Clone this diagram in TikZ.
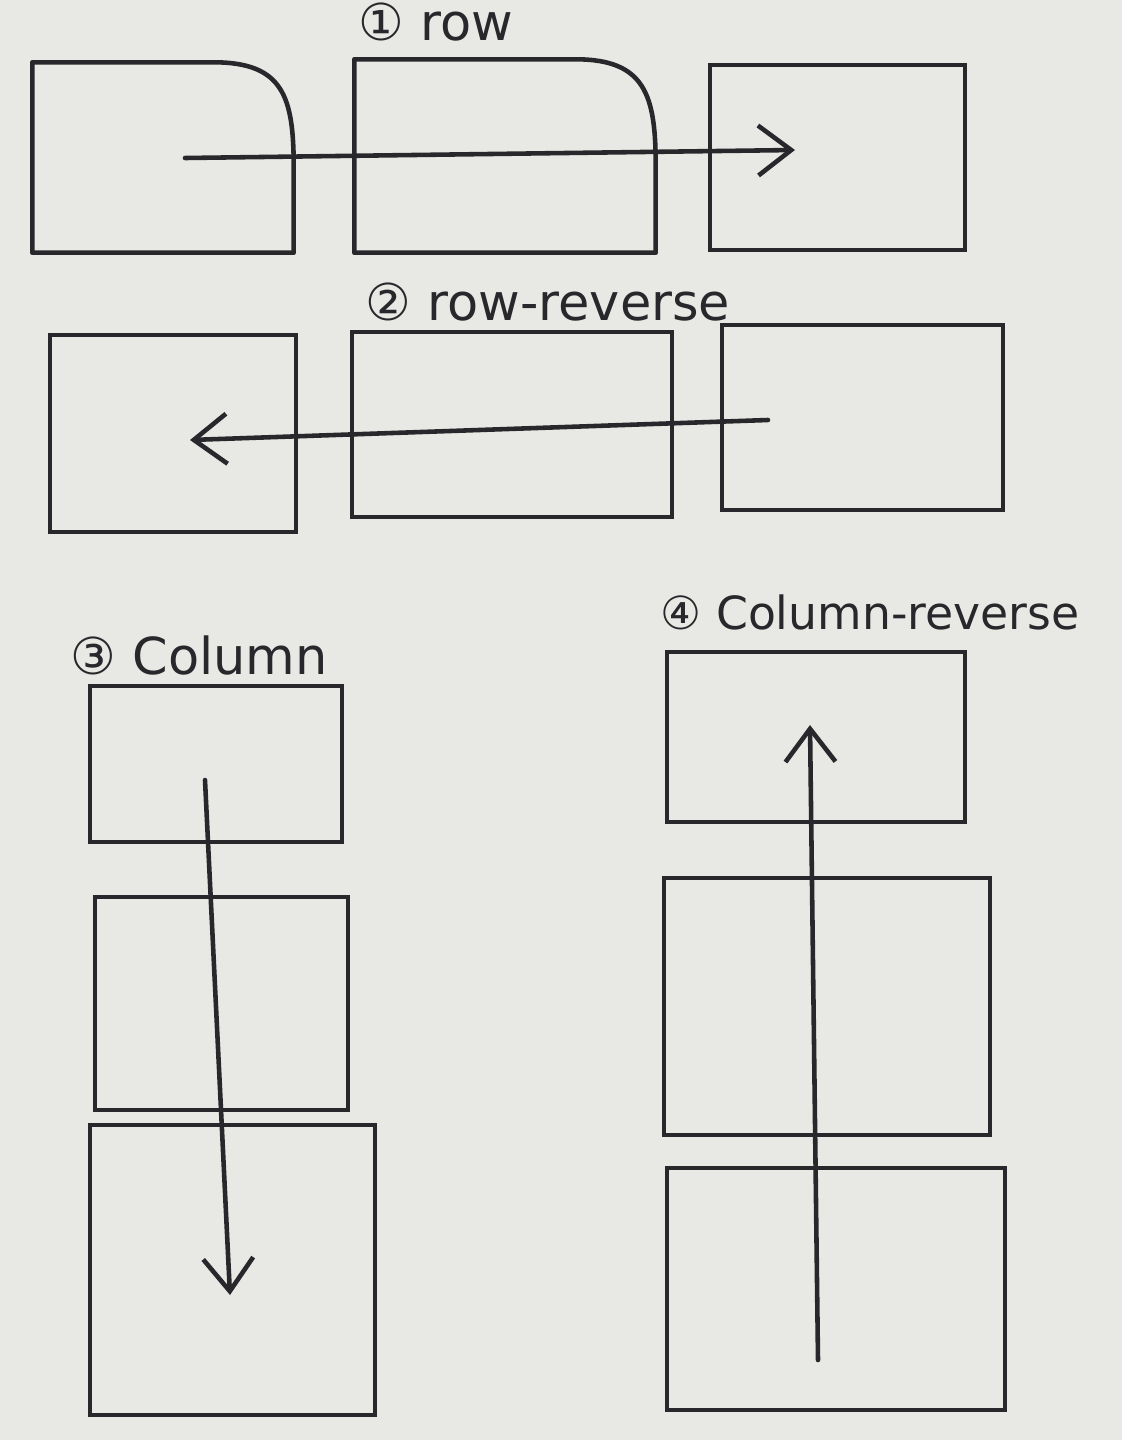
\documentclass[tikz,border=0pt]{standalone}
\usepackage{fontspec}
\setmainfont{DejaVu Sans}
\usetikzlibrary{arrows.meta}
\definecolor{paper}{RGB}{232,232,228}
\definecolor{ink}{RGB}{40,40,44}
\tikzset{
  box/.style={draw=ink,line width=1.3pt,rectangle,inner sep=0pt},
  flow/.style={draw=ink,line width=1.3pt,line cap=round,-{Straight Barb[length=3.3mm,width=5mm,line width=1.3pt]}},
  tag/.style={anchor=west,text=ink,font=\fontsize{14.5}{17}\selectfont,inner sep=0pt}
}

\begin{document}
\begin{tikzpicture}
  \fill[paper] (0,0) rectangle (11.22,-14.40);
  \useasboundingbox (0,0) rectangle (11.22,-14.40);
  % 1 row
  \node[tag] (t1) at (3.58,-0.22) {① row};
  \node[minimum width=2.60cm,minimum height=1.89cm,inner sep=0pt] (r1a) at (1.63,-1.575) {};
  \node[minimum width=3.00cm,minimum height=1.92cm,inner sep=0pt] (r1b) at (5.05,-1.56) {};
  \node[box,minimum width=2.55cm,minimum height=1.85cm] (r1c) at (8.375,-1.575) {};
  \draw[draw=ink,line width=1.3pt,line join=round] (r1a.south east) -- (r1a.south west) -- (r1a.north west)
    -- ([xshift=-8mm]r1a.north east) .. controls ([xshift=-1mm]r1a.north east) and ([yshift=6mm]r1a.east) .. ([yshift=-1mm]r1a.east) -- cycle;
  \draw[draw=ink,line width=1.3pt,line join=round] (r1b.south east) -- (r1b.south west) -- (r1b.north west)
    -- ([xshift=-8mm]r1b.north east) .. controls ([xshift=-1mm]r1b.north east) and ([yshift=6mm]r1b.east) .. ([yshift=-1mm]r1b.east) -- cycle;
  \coordinate (s1) at (1.85,-1.58);
  \coordinate (e1) at (7.95,-1.50);
  \draw[flow] (s1) -- (e1);
  % 2 row-reverse
  \node[tag] (t2) at (3.65,-3.02) {② row-reverse};
  \node[box,minimum width=2.46cm,minimum height=1.97cm] (r2a) at (1.73,-4.335) {};
  \node[box,minimum width=3.20cm,minimum height=1.85cm] (r2b) at (5.12,-4.245) {};
  \node[box,minimum width=2.81cm,minimum height=1.85cm] (r2c) at (8.625,-4.175) {};
  \coordinate (s2) at (7.68,-4.20);
  \coordinate (e2) at (1.90,-4.40);
  \draw[flow] (s2) -- (e2);
  % 3 column
  \node[tag] (t3) at (0.70,-6.55) {③ Column};
  \node[box,minimum width=2.52cm,minimum height=1.56cm] (c3a) at (2.16,-7.64) {};
  \node[box,minimum width=2.53cm,minimum height=2.13cm] (c3b) at (2.215,-10.035) {};
  \node[box,minimum width=2.85cm,minimum height=2.90cm] (c3c) at (2.325,-12.70) {};
  \coordinate (s3) at (2.05,-7.80);
  \coordinate (e3) at (2.30,-12.95);
  \draw[flow] (s3) -- (e3);
  % 4 column-reverse
  \node[tag,font=\fontsize{13}{16}\selectfont] (t4) at (6.60,-6.12) {④ Column-reverse};
  \node[box,minimum width=2.98cm,minimum height=1.70cm] (c4a) at (8.16,-7.37) {};
  \node[box,minimum width=3.26cm,minimum height=2.57cm] (c4b) at (8.27,-10.065) {};
  \node[box,minimum width=3.38cm,minimum height=2.42cm] (c4c) at (8.36,-12.89) {};
  \coordinate (s4) at (8.18,-13.60);
  \coordinate (e4) at (8.10,-7.25);
  \draw[flow] (s4) -- (e4);
\end{tikzpicture}
\end{document}
